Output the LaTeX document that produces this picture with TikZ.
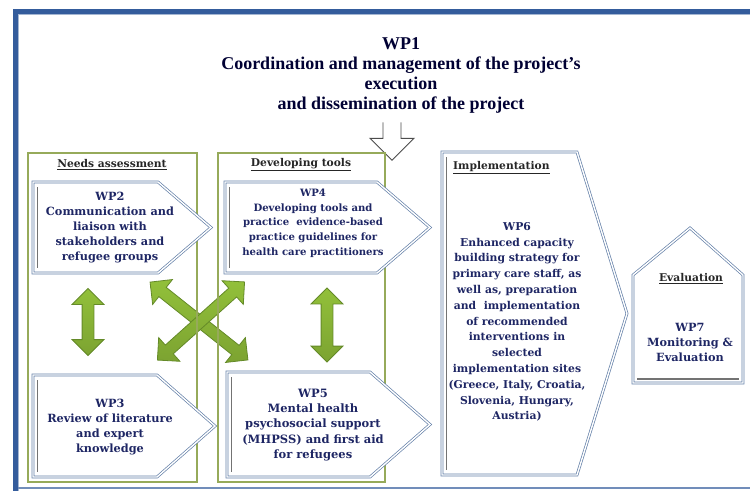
\documentclass[tikz,border=0pt]{standalone}
\usepackage{fontspec}
\setmainfont{DejaVu Serif}
\newfontfamily\wpfont{Liberation Serif}
\usetikzlibrary{shapes.arrows,calc}

\definecolor{framebl}{RGB}{52,92,156}
\definecolor{boxbl}{RGB}{100,128,168}
\definecolor{wpnavy}{RGB}{30,38,100}
\definecolor{olivegr}{RGB}{150,170,90}
\definecolor{arrgr}{RGB}{146,192,58}
\definecolor{arrlt}{RGB}{178,214,96}
\definecolor{arrdk}{RGB}{100,138,40}

\begin{document}
\begin{tikzpicture}[x=1pt, y=-1pt,
    wpshape/.style={draw=boxbl, line width=0.7pt, double=white, double distance=1.4pt, fill=white},
    shadebar/.style={draw=black!55, line width=1.4pt},
    grbox/.style={draw=olivegr, line width=1.2pt, minimum width=169pt, minimum height=329pt, inner sep=0pt},
    heading/.style={font=\fontsize{10.7}{12}\selectfont\bfseries, text=black!85, inner sep=1pt},
    wptext/.style={font=\fontsize{11.3}{15}\selectfont\bfseries, text=wpnavy, align=center, inner sep=0pt},
    dblarrow/.style={shape=double arrow, top color=arrgr, middle color=arrlt, bottom color=arrgr!85!black,
        draw=arrdk, line width=0.8pt,
        double arrow head extend=10pt, double arrow tip angle=90, inner xsep=0pt, inner ysep=5.5pt}]
\useasboundingbox (0,0) rectangle (750,491);
\fill[white] (0,0) rectangle (750,491);

% frame
\draw[framebl, line width=5pt] (750,11) -- (15,11) -- (15,491);
\draw[framebl!45, line width=1.2pt] (750,14.8) -- (18.8,14.8) -- (18.8,491);
\draw[framebl!70, line width=1.5pt] (18,488) -- (750,488);

% WP1 and the arrow below it
\node[wpshape, minimum width=711pt, minimum height=100pt] (wp1) at (390.5,74) {};
\node[align=center, text=black!80!blue, font=\wpfont\fontsize{18}{20}\selectfont\bfseries] (wp1t) at (401,75)
  {WP1\\Coordination and management of the project’s\\execution\\and dissemination of the project};
\path[fill=white, draw=black!70, line width=0.9pt] ($(wp1.south)+(-7.5,-2)$) -- ++(0,16) -- ++(-13,0)
  -- ++(22,22) -- ++(22,-22) -- ++(-13,0) -- ++(0,-16);

% green arrows
\node[dblarrow, rotate=90, minimum height=67pt] (a23) at (88,322) {};
\node[dblarrow, rotate=90, minimum height=74pt] (a45) at (327,325) {};
\node[dblarrow, rotate=-38.5, minimum height=125pt] (a25) at (199,321) {};
\node[dblarrow, rotate=41.9, minimum height=117pt] (a34) at (201,321) {};

% columns
\node[grbox] (needs) at (112.5,317.5) {};
\node[grbox, minimum width=167pt] (devel) at (301.5,317.5) {};
\node[heading] (needsh) at (112,165) {\underline{Needs assessment}};
\node[heading] (develh) at (301,165) {\underline{Developing tools}};

% work packages
\draw[wpshape] (33,182) -- (158,182) -- (211,227.5) -- (158,273) -- (33,273) -- cycle;
\draw[shadebar] (37.5,187) -- (37.5,268);
\node[wptext] (wp2) at (110,228) {WP2\\Communication and\\liaison with\\stakeholders and\\refugee groups};

\draw[wpshape] (33,375) -- (157,375) -- (215,426) -- (157,477) -- (33,477) -- cycle;
\draw[shadebar] (37.5,380) -- (37.5,472);
\node[wptext] (wp3) at (110,427) {WP3\\Review of literature\\and expert\\knowledge};

\draw[wpshape] (225,182) -- (377,182) -- (430,227.5) -- (377,273) -- (225,273) -- cycle;
\draw[shadebar] (229.5,187) -- (229.5,268);
\node[wptext, font=\fontsize{10.1}{14.7}\selectfont\bfseries] (wp4) at (313,223) {WP4\\Developing tools and\\practice\ \ evidence-based\\practice guidelines for\\health care practitioners};

\draw[wpshape] (227,372) -- (370,372) -- (430,424.5) -- (370,477) -- (227,477) -- cycle;
\draw[shadebar] (231.5,377) -- (231.5,472);
\node[wptext, font=\fontsize{11.5}{15.3}\selectfont\bfseries] (wp5) at (313,425) {WP5\\Mental health\\psychosocial support\\(MHPSS) and first aid\\for refugees};

\draw[wpshape] (442,152) -- (577,152) -- (627,313.5) -- (577,475) -- (442,475) -- cycle;
\draw[shadebar] (446.5,157) -- (446.5,470);
\node[heading, anchor=west] (implh) at (452,168) {\underline{Implementation}};
\node[wptext, font=\fontsize{10.8}{15.8}\selectfont\bfseries] (wp6) at (517,322) {WP6\\Enhanced capacity\\building strategy for\\primary care staff, as\\well as, preparation\\and\ \ implementation\\of recommended\\interventions in\\selected\\implementation sites\\(Greece, Italy, Croatia,\\Slovenia, Hungary,\\Austria)};

\draw[wpshape] (633,383) -- (633,275) -- (690,228) -- (743,275) -- (743,383) -- cycle;
\draw[shadebar] (637,379) -- (739,379);
\node[heading] (evalh) at (691,279) {\underline{Evaluation}};
\node[wptext] (wp7) at (690,342) {WP7\\Monitoring \&\\Evaluation};

\end{tikzpicture}
\end{document}
